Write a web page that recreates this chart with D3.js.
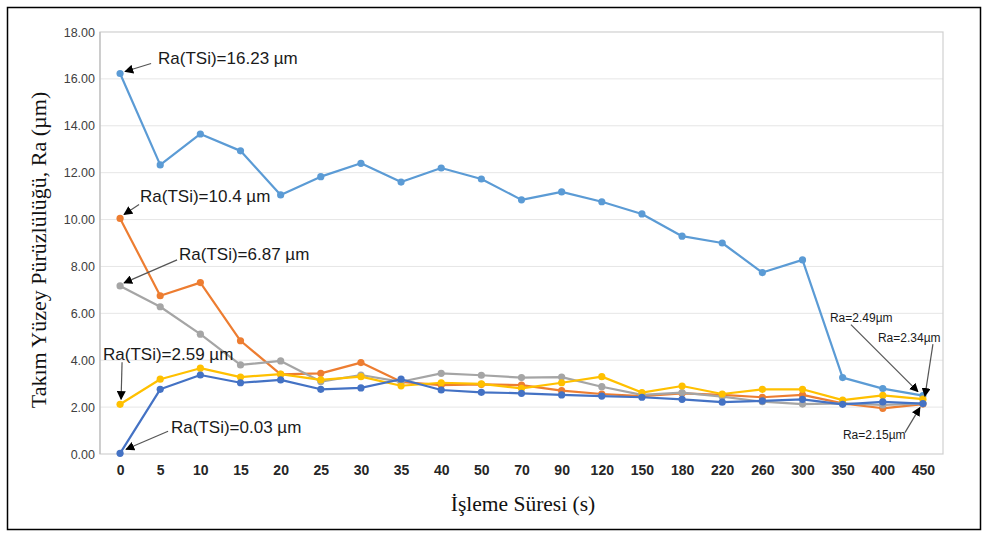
<!DOCTYPE html>
<html>
<head>
<meta charset="utf-8">
<script src="https://cdn.jsdelivr.net/npm/d3@7"></script>
<style>
  html, body { margin: 0; padding: 0; background: #fff; }
  svg { display: block; }
</style>
</head>
<body>
<svg id="chart" width="987" height="536"></svg>
<script>
// categories on the x axis (processing time, s)
const times = ['0', '5', '10', '15', '20', '25', '30', '35', '40', '50', '70', '90',
  '120', '150', '180', '220', '260', '300', '350', '400', '450'];
const yTicks = [0, 2, 4, 6, 8, 10, 12, 14, 16, 18];

// Ra values per tool
const raTsi1623 = [16.23, 12.33, 13.65, 12.93, 11.05, 11.83, 12.40, 11.60, 12.20, 11.73, 10.84,
  11.18, 10.76, 10.24, 9.29, 9.00, 7.74, 8.28, 3.26, 2.79, 2.49];
const raTsi104 = [10.05, 6.75, 7.31, 4.83, 3.40, 3.44, 3.90, 3.08, 2.94, 2.97, 2.94,
  2.70, 2.56, 2.47, 2.59, 2.52, 2.42, 2.52, 2.16, 1.95, 2.13];
const raTsi687 = [7.17, 6.28, 5.11, 3.80, 3.97, 3.09, 3.37, 3.08, 3.44, 3.36, 3.26,
  3.28, 2.87, 2.52, 2.62, 2.45, 2.23, 2.13, 2.16, 2.09, 2.15];
const raTsi259 = [2.12, 3.19, 3.66, 3.28, 3.41, 3.16, 3.30, 2.91, 3.04, 2.99, 2.80,
  3.04, 3.30, 2.62, 2.90, 2.56, 2.76, 2.76, 2.30, 2.50, 2.34];
const raTsi003 = [0.03, 2.76, 3.37, 3.04, 3.16, 2.76, 2.82, 3.19, 2.73, 2.63, 2.59,
  2.52, 2.47, 2.42, 2.33, 2.21, 2.27, 2.33, 2.12, 2.22, 2.15];

const series = [
  { name: 'TSi 16.23', values: raTsi1623, color: '#5B9BD5' },
  { name: 'TSi 10.4', values: raTsi104, color: '#ED7D31' },
  { name: 'TSi 6.87', values: raTsi687, color: '#A5A5A5' },
  { name: 'TSi 2.59', values: raTsi259, color: '#FFC000' },
  { name: 'TSi 0.03', values: raTsi003, color: '#4472C4' }
];

// callouts: text, which series/index the arrow points at
const notes = [
  { text: 'Ra(TSi)=16.23 µm', s: 0, i: 0, size: 17 },
  { text: 'Ra(TSi)=10.4 µm', s: 1, i: 0, size: 17 },
  { text: 'Ra(TSi)=6.87 µm', s: 2, i: 0, size: 17 },
  { text: 'Ra(TSi)=2.59 µm', s: 3, i: 0, size: 17 },
  { text: 'Ra(TSi)=0.03 µm', s: 4, i: 0, size: 17 },
  { text: 'Ra=2.49µm', s: 0, i: 20, size: 12 },
  { text: 'Ra=2.34µm', s: 3, i: 20, size: 12 },
  { text: 'Ra=2.15µm', s: 4, i: 20, size: 12 }
];
// label anchor + arrow start, relative to the target point
const noteLayout = [
  { tx: 38, ty: -15, ax: 31, ay: -10, ex: 5, ey: -2 },
  { tx: 20, ty: -22, ax: 19, ay: -14, ex: 4, ey: -4 },
  { tx: 59, ty: -32, ax: 57, ay: -26, ex: 4, ey: -3 },
  { tx: -17, ty: -50, ax: 2, ay: -42, ex: 1, ey: -5 },
  { tx: 51, ty: -26, ax: 48, ay: -22, ex: 6, ey: -4 },
  { tx: -93, ty: -78, ax: -72, ay: -71, ex: -5, ey: -4 },
  { tx: -45, ty: -61, ax: 10, ay: -55, ex: 2, ey: -3 },
  { tx: -80, ty: 31, ax: -18, ay: 29, ex: -3, ey: 4 }
];

const svg = d3.select('#chart');
const margin = { left: 100, top: 32, right: 44, bottom: 82 };
const width = 987 - margin.left - margin.right;
const height = 536 - margin.top - margin.bottom;

// outer frame of the figure
svg.append('rect')
  .attr('x', 7.5).attr('y', 7.5).attr('width', 973).attr('height', 522)
  .attr('fill', 'none').attr('stroke', '#000').attr('stroke-width', 1.5);

const g = svg.append('g').attr('transform', `translate(${margin.left},${margin.top})`);

const x = d3.scalePoint().domain(times).range([0, width]).padding(0.5);
const y = d3.scaleLinear().domain([0, 18]).range([height, 0]);

// grid
g.append('g').selectAll('line')
  .data(yTicks.filter(d => d > 0 && d < 18))
  .join('line')
  .attr('x1', 0).attr('x2', width)
  .attr('y1', d => y(d)).attr('y2', d => y(d))
  .attr('stroke', '#E6E6E6').attr('stroke-width', 1);

// plot area frame
g.append('rect')
  .attr('x', 0).attr('y', 0).attr('width', width).attr('height', height)
  .attr('fill', 'none').attr('stroke', '#D0D0D0').attr('stroke-width', 1.2);
g.append('line')
  .attr('x1', 0).attr('x2', 0).attr('y1', 0).attr('y2', height)
  .attr('stroke', '#BFBFBF').attr('stroke-width', 1.2);

// y axis
const yAxis = g.append('g')
  .call(d3.axisLeft(y).tickValues(yTicks).tickFormat(d3.format('.2f')).tickSize(0).tickPadding(5));
yAxis.select('.domain').remove();
yAxis.selectAll('text')
  .attr('fill', '#404040')
  .style('font-family', '"Liberation Sans", Arial, sans-serif')
  .style('font-size', '12.5px');

// x axis
const xAxis = g.append('g')
  .attr('transform', `translate(0,${height})`)
  .call(d3.axisBottom(x).tickSize(0).tickPadding(11));
xAxis.select('.domain').remove();
xAxis.selectAll('text')
  .attr('fill', '#262626')
  .style('font-family', '"Liberation Sans Narrow", "Liberation Sans", Arial, sans-serif')
  .style('font-weight', 'bold')
  .style('font-size', '14px');

// axis titles
svg.append('text')
  .attr('x', 523).attr('y', 511)
  .attr('text-anchor', 'middle')
  .style('font-family', '"Liberation Serif", "Times New Roman", serif')
  .style('font-size', '21.5px')
  .attr('fill', '#111')
  .text('İşleme Süresi (s)');

svg.append('text')
  .attr('transform', 'translate(38,250) rotate(-90)')
  .attr('text-anchor', 'middle')
  .attr('dy', '0.35em')
  .style('font-family', '"Liberation Serif", "Times New Roman", serif')
  .style('font-size', '22px')
  .attr('fill', '#111')
  .text('Takım Yüzey Pürüzlülüğü, Ra (µm)');

// lines
const line = d3.line()
  .x((d, i) => x(times[i]))
  .y(d => y(d));

const sg = g.selectAll('.series')
  .data(series)
  .join('g')
  .attr('class', 'series');

sg.append('path')
  .attr('d', d => line(d.values))
  .attr('fill', 'none')
  .attr('stroke', d => d.color)
  .attr('stroke-width', 2.2)
  .attr('stroke-linejoin', 'round');

sg.selectAll('circle')
  .data(d => d.values.map(v => ({ v, color: d.color })))
  .join('circle')
  .attr('cx', (d, i) => x(times[i]))
  .attr('cy', d => y(d.v))
  .attr('r', 3.6)
  .attr('fill', d => d.color);

// callouts
svg.append('defs').append('marker')
  .attr('id', 'head')
  .attr('viewBox', '0 0 10 10')
  .attr('refX', 9).attr('refY', 5)
  .attr('markerWidth', 9).attr('markerHeight', 9)
  .attr('markerUnits', 'userSpaceOnUse')
  .attr('orient', 'auto')
  .append('path').attr('d', 'M0,0 L10,5 L0,10 Z').attr('fill', '#000');

const ng = g.append('g');
notes.forEach((n, k) => {
  const L = noteLayout[k];
  const px = x(times[n.i]);
  const py = y(series[n.s].values[n.i]);
  ng.append('line')
    .attr('x1', px + L.ax).attr('y1', py + L.ay)
    .attr('x2', px + L.ex).attr('y2', py + L.ey)
    .attr('stroke', '#555').attr('stroke-width', 1.2)
    .attr('marker-end', 'url(#head)');
  ng.append('text')
    .attr('x', px + L.tx).attr('y', py + L.ty)
    .attr('dy', '0.35em')
    .attr('fill', '#1a1a1a')
    .style('font-family', '"Liberation Sans", Arial, sans-serif')
    .style('font-size', `${n.size}px`)
    .text(n.text);
});
</script>
</body>
</html>
